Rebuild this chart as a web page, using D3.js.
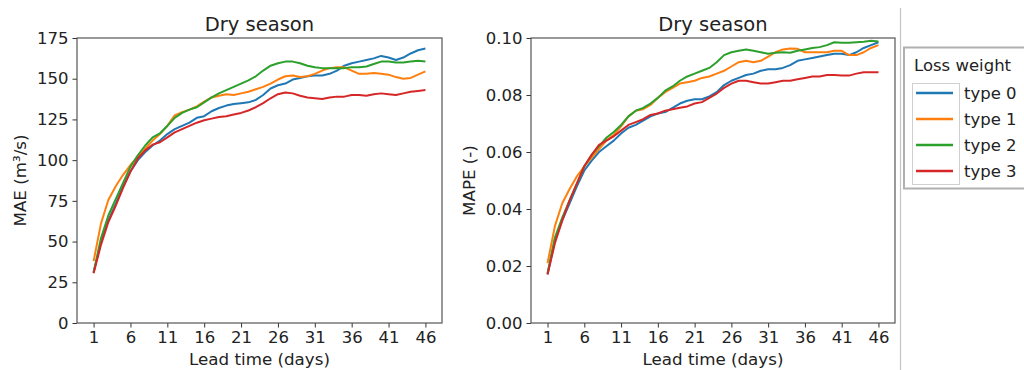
<!DOCTYPE html>
<html>
<head>
<meta charset="utf-8">
<script src="https://cdn.jsdelivr.net/npm/d3@7"></script>
<style>
  body { margin: 0; background: #fff; }
  svg { display: block; font-family: "DejaVu Sans", sans-serif; }
</style>
</head>
<body>
<svg id="chart" width="1024" height="370"></svg>
<script>
const days = d3.range(1, 47);
const seriesNames = ["type 0", "type 1", "type 2", "type 3"];
const colors = ["#1f77b4", "#ff7f0e", "#2ca02c", "#d62728"];
const xTicks = [1, 6, 11, 16, 21, 26, 31, 36, 41, 46];
const maeTicks = [0, 25, 50, 75, 100, 125, 150, 175];
const mapeTicks = [0, 0.02, 0.04, 0.06, 0.08, 0.10];

// MAE (m3/s), dry season, lead days 1..46
const maeType0 = [31, 50, 63, 73, 84, 93, 100, 105, 109, 112, 116, 119, 121, 123, 126, 127, 130, 132, 133.5, 134.5,
  135, 135.5, 137, 140, 144, 146, 147, 149.5, 150.5, 151.5, 152, 152, 153, 155, 158, 159.5, 160.5, 161.5, 162.5, 164,
  163, 161.5, 163, 165.5, 167.5, 168.5];
const maeType1 = [38, 61, 75.5, 84, 91, 97, 102, 107, 112, 116, 121, 127.5, 129.5, 131, 133, 136, 138.5, 139.5, 140.5, 140,
  141, 142, 143.5, 145, 147, 149.5, 151.5, 152, 151, 151.5, 153, 155, 156.5, 157, 157, 155, 153, 153, 153.5, 153,
  152.5, 151, 150, 150.5, 152.5, 154.5];
const maeType2 = [31, 52, 66, 76, 86, 96, 103, 109, 114, 116.5, 121, 126, 129, 131, 132.5, 135.5, 138.5, 141, 143, 145,
  147, 149, 151.5, 155, 158, 159.5, 160.5, 160.5, 159.5, 158, 157, 156.5, 156.5, 156.5, 156.5, 157, 157, 157.5, 159, 160.5,
  160.5, 160, 160, 160.5, 161, 160.5];
const maeType3 = [30.5, 48, 62, 72, 83, 93, 101, 106, 109.5, 111, 114, 117, 119, 121, 123, 124.5, 125.5, 126.5, 127, 128,
  129, 130.5, 132.5, 135, 138, 140.5, 141.5, 141, 139.5, 138.5, 138, 137.5, 138.5, 139, 139, 140, 140, 139.5, 140.5, 141,
  140.5, 140, 141, 142, 142.5, 143];

// MAPE (-), dry season
const mapeType0 = [0.0171, 0.029, 0.036, 0.042, 0.048, 0.0535, 0.057, 0.060, 0.062, 0.064, 0.0665, 0.0685, 0.0695, 0.071, 0.0725,
  0.0735, 0.074, 0.0755, 0.077, 0.078, 0.0785, 0.0785, 0.0795, 0.081, 0.0835, 0.085, 0.086, 0.087, 0.0875, 0.0885,
  0.089, 0.089, 0.0895, 0.0905, 0.092, 0.0925, 0.093, 0.0935, 0.094, 0.0945, 0.0945, 0.094, 0.095, 0.0965, 0.0975, 0.0985];
const mapeType1 = [0.021, 0.034, 0.042, 0.047, 0.0515, 0.055, 0.058, 0.061, 0.064, 0.066, 0.069, 0.0725, 0.0745, 0.075, 0.0765,
  0.079, 0.081, 0.0825, 0.084, 0.0845, 0.085, 0.086, 0.0865, 0.0875, 0.0885, 0.090, 0.0915, 0.092, 0.0915, 0.092,
  0.0935, 0.095, 0.096, 0.0963, 0.0962, 0.095, 0.095, 0.095, 0.095, 0.0955, 0.0955, 0.094, 0.094, 0.095, 0.0965, 0.0975];
const mapeType2 = [0.0175, 0.030, 0.037, 0.043, 0.049, 0.055, 0.059, 0.062, 0.065, 0.067, 0.0695, 0.0725, 0.0745, 0.0755, 0.077,
  0.079, 0.0815, 0.083, 0.085, 0.0865, 0.0875, 0.0885, 0.0895, 0.0915, 0.094, 0.095, 0.0955, 0.096, 0.0955, 0.095,
  0.0945, 0.0948, 0.095, 0.0948, 0.0955, 0.096, 0.0965, 0.0968, 0.0975, 0.0985, 0.0983, 0.0983, 0.0985, 0.0987, 0.099, 0.0988];
const mapeType3 = [0.017, 0.028, 0.036, 0.043, 0.049, 0.055, 0.059, 0.0625, 0.064, 0.0655, 0.0675, 0.0695, 0.0705, 0.0715, 0.073,
  0.0735, 0.0745, 0.075, 0.0755, 0.076, 0.077, 0.0775, 0.079, 0.0805, 0.0825, 0.084, 0.085, 0.085, 0.0845, 0.084,
  0.084, 0.0845, 0.085, 0.085, 0.0855, 0.086, 0.0865, 0.0865, 0.087, 0.087, 0.0868, 0.0868, 0.0875, 0.088, 0.088, 0.088];

const svg = d3.select("#chart");
const plotTop = 38, plotBottom = 323;

function panel(left, right, series, yMax, yTicks, fmt, yLabel, yLabelX) {
  const x = d3.scaleLinear().domain([-1.25, 48.25]).range([left, right]);
  const y = d3.scaleLinear().domain([0, yMax]).range([plotBottom, plotTop]);
  const g = svg.append("g");

  const line = d3.line().x((d, i) => x(days[i])).y(d => y(d));
  series.forEach((s, i) => {
    g.append("path")
      .attr("d", line(s))
      .attr("fill", "none")
      .attr("stroke", colors[i])
      .attr("stroke-width", 2)
      .attr("stroke-linejoin", "round");
  });

  const xAxis = g.append("g")
    .attr("transform", `translate(0,${plotBottom})`)
    .call(d3.axisBottom(x).tickValues(xTicks).tickSize(4.5).tickPadding(4));
  const yAxis = g.append("g")
    .attr("transform", `translate(${left},0)`)
    .call(d3.axisLeft(y).tickValues(yTicks).tickFormat(fmt).tickSize(4.5).tickPadding(4));
  [xAxis, yAxis].forEach(a => {
    a.select(".domain").remove();
    a.selectAll("line").attr("stroke", "#333").attr("stroke-width", 1);
    a.selectAll("text").attr("fill", "#222").style("font-size", "16.5px").style("font-family", "DejaVu Sans");
  });

  g.append("rect")
    .attr("x", left).attr("y", plotTop)
    .attr("width", right - left).attr("height", plotBottom - plotTop)
    .attr("fill", "none").attr("stroke", "#555").attr("stroke-width", 1.2);

  g.append("text")
    .attr("x", (left + right) / 2).attr("y", 31)
    .attr("text-anchor", "middle")
    .attr("fill", "#222")
    .style("font-size", "19.5px")
    .text("Dry season");

  g.append("text")
    .attr("x", (left + right) / 2).attr("y", 365)
    .attr("text-anchor", "middle")
    .attr("fill", "#222")
    .style("font-size", "16.7px")
    .text("Lead time (days)");

  g.append("text")
    .attr("transform", `translate(${yLabelX},${(plotTop + plotBottom) / 2}) rotate(-90)`)
    .attr("text-anchor", "middle")
    .attr("fill", "#222")
    .style("font-size", "16.7px")
    .text(yLabel);
}

panel(77, 442, [maeType0, maeType1, maeType2, maeType3], 175, maeTicks, d3.format("d"), "MAE (m\u00b3/s)", 26);
panel(531, 895, [mapeType0, mapeType1, mapeType2, mapeType3], 0.10, mapeTicks, d3.format(".2f"), "MAPE (-)", 475);

// separator on the right
svg.append("line")
  .attr("x1", 900.5).attr("x2", 900.5).attr("y1", 8).attr("y2", 370)
  .attr("stroke", "#c4c4c4").attr("stroke-width", 1.2);

// legend
const lg = svg.append("g");
lg.append("rect")
  .attr("x", 904).attr("y", 47.5).attr("width", 140).attr("height", 141)
  .attr("fill", "#fff").attr("stroke", "#b0b0b0").attr("stroke-width", 2);
lg.append("text")
  .attr("x", 914).attr("y", 71)
  .attr("fill", "#222")
  .style("font-size", "16.5px")
  .text("Loss weight");
lg.append("rect")
  .attr("x", 912.5).attr("y", 83.5).attr("width", 47).attr("height", 101)
  .attr("fill", "none").attr("stroke", "#d0d0d0").attr("stroke-width", 1);
seriesNames.forEach((name, i) => {
  const cy = 93 + i * 26;
  lg.append("line")
    .attr("x1", 916).attr("x2", 953).attr("y1", cy).attr("y2", cy)
    .attr("stroke", colors[i]).attr("stroke-width", 2.5);
  lg.append("text")
    .attr("x", 964).attr("y", cy + 6)
    .attr("fill", "#222")
    .style("font-size", "16.5px")
    .text(name);
});
</script>
</body>
</html>
